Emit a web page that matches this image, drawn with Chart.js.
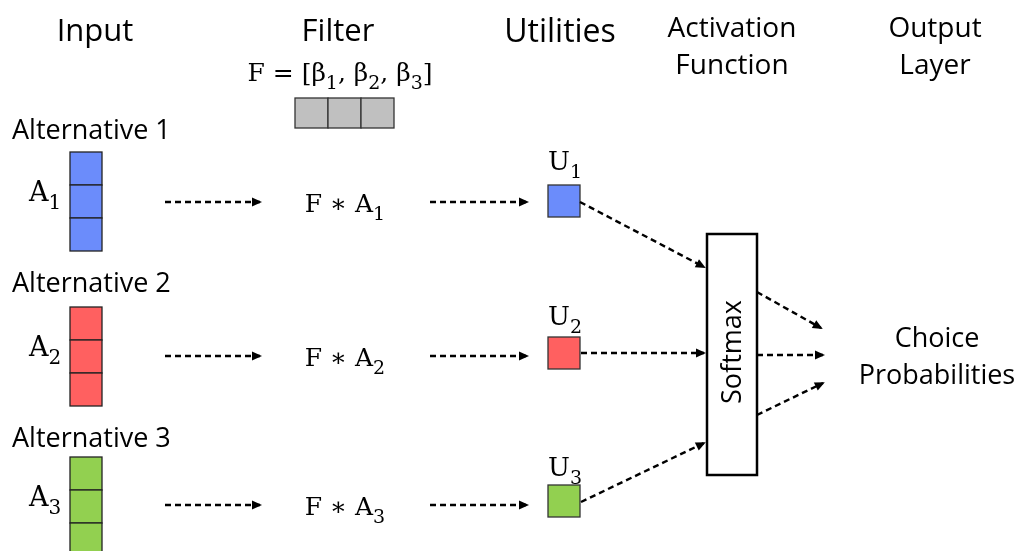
<!DOCTYPE html>
<html><head><meta charset="utf-8">
<script src="https://cdn.jsdelivr.net/npm/chart.js@4"></script>
<style>html,body{margin:0;padding:0;background:#fff}canvas{display:block}</style>
</head><body>
<canvas id="c" width="1019" height="551"></canvas>
<script>
// ---- diagram data (in diagram units: x 0..1019, y 0..551 top-down) ----
const headers = [['Input'], ['Filter'], ['Utilities'], ['Activation', 'Function'], ['Output', 'Layer']];
const headerX = [95, 338, 560, 732, 935];
const headerY = [41, 41, 42, 37, 37];
const headerSize = [31, 31, 32, 28, 28];
const alternatives = ['Alternative 1', 'Alternative 2', 'Alternative 3'];
const altLabelY = [139, 292, 447];
const inputTop = [152, 307, 457];
const rowY = [202, 356, 505];
const altColors = ['#6b8cfb', '#ff6060', '#92d050'];
const subscripts = ['1', '2', '3'];
const utilityTop = [185, 337, 485];
const utilityLabelY = [170, 325, 476];
const filterCellsX = [295, 328, 361];
const stage1 = [[165, 260], [165, 260], [165, 260]];
const stage2 = [[430, 527], [430, 527], [430, 527]];
const toSoftmax = [[[580, 202], [704, 267]], [[581, 353], [704, 353]], [[581, 502], [704, 443]]];
const fromSoftmax = [[[757, 292], [821, 328]], [[757, 355], [823, 355]], [[757, 415], [823, 383]]];
const outputLabel = ['Choice', 'Probabilities'];
const outputLabelY = [347, 384];

const datasets = [];
function addArrow(p0, p1) {
  datasets.push({ data: [{ x: p0[0], y: p0[1] }, { x: p1[0], y: p1[1] }], showLine: true,
    borderColor: '#000', borderWidth: 2.4, borderDash: [6, 4], pointRadius: 0, arrow: true });
}
for (let i = 0; i < 3; i++) {
  addArrow([stage1[i][0], rowY[i]], [stage1[i][1], rowY[i]]);
  addArrow([stage2[i][0], rowY[i]], [stage2[i][1], rowY[i]]);
  addArrow(toSoftmax[i][0], toSoftmax[i][1]);
  addArrow(fromSoftmax[i][0], fromSoftmax[i][1]);
}

const SANS = '"Open Sans", Lato, sans-serif';
const SERIF = '"DejaVu Serif", "Liberation Serif", serif';

const diagram = {
  id: 'diagram',
  beforeDatasetsDraw(chart) {
    const { ctx, scales: { x: xs, y: ys } } = chart;
    const X = v => xs.getPixelForValue(v), Y = v => ys.getPixelForValue(v);
    function rect(x, y, w, h, fill, stroke, lw) {
      const x0 = X(x), y0 = Y(y), x1 = X(x + w), y1 = Y(y + h);
      ctx.fillStyle = fill; ctx.fillRect(x0, y0, x1 - x0, y1 - y0);
      ctx.strokeStyle = stroke; ctx.lineWidth = lw; ctx.strokeRect(x0, y0, x1 - x0, y1 - y0);
    }
    function text(t, x, y, font, align) {
      ctx.font = font; ctx.fillStyle = '#000'; ctx.textAlign = align || 'center'; ctx.textBaseline = 'alphabetic';
      ctx.fillText(t, X(x), Y(y));
    }
    function math(parts, x, y, size) {
      const big = size + 'px ' + SERIF, small = Math.round(size * 0.74) + 'px ' + SERIF;
      let w = 0;
      parts.forEach(p => { ctx.font = p[1] ? small : big; w += ctx.measureText(p[0]).width; });
      let cx = X(x) - w / 2;
      ctx.fillStyle = '#000'; ctx.textAlign = 'left'; ctx.textBaseline = 'alphabetic';
      parts.forEach(p => {
        ctx.font = p[1] ? small : big;
        ctx.fillText(p[0], cx, Y(y + (p[1] ? size * 0.3 : 0)));
        cx += ctx.measureText(p[0]).width;
      });
    }
    ctx.save();
    headers.forEach((lines, i) => lines.forEach((l, j) => text(l, headerX[i], headerY[i] + j * 37, headerSize[i] + 'px ' + SANS)));
    math([['F = [β', 0], ['1', 1], [', β', 0], ['2', 1], [', β', 0], ['3', 1], [']', 0]], 340, 81, 25);
    filterCellsX.forEach(fx => rect(fx, 98, 33, 30, '#c0c0c0', '#333', 1.3));
    for (let i = 0; i < 3; i++) {
      text(alternatives[i], 12, altLabelY[i], '27px ' + SANS, 'left');
      for (let k = 0; k < 3; k++) rect(70, inputTop[i] + k * 33, 32, 33, altColors[i], '#222', 1.3);
      math([['A', 0], [subscripts[i], 1]], 45, inputTop[i] + 49, 27);
      math([['F ∗ A', 0], [subscripts[i], 1]], 345, rowY[i] + 10, 25);
      math([['U', 0], [subscripts[i], 1]], 565, utilityLabelY[i], 26);
      rect(548, utilityTop[i], 32, 32, altColors[i], '#333', 1.3);
    }
    rect(707, 234, 50, 241, '#fff', '#000', 2.5);
    ctx.save();
    ctx.translate(X(733), Y(352)); ctx.rotate(-Math.PI / 2);
    ctx.font = '27px ' + SANS; ctx.textAlign = 'center'; ctx.textBaseline = 'middle'; ctx.fillStyle = '#000';
    ctx.fillText('Softmax', 0, 0);
    ctx.restore();
    outputLabel.forEach((l, j) => text(l, 937, outputLabelY[j], '27px ' + SANS));
    ctx.restore();
  },
  afterDatasetsDraw(chart) {
    const { ctx } = chart;
    chart.data.datasets.forEach((ds, i) => {
      if (!ds.arrow) return;
      const pts = chart.getDatasetMeta(i).data;
      const a = pts[pts.length - 2], b = pts[pts.length - 1];
      const ang = Math.atan2(b.y - a.y, b.x - a.x);
      ctx.save();
      ctx.translate(b.x, b.y); ctx.rotate(ang);
      ctx.fillStyle = '#000';
      ctx.beginPath(); ctx.moveTo(2, 0); ctx.lineTo(-8, -4.5); ctx.lineTo(-8, 4.5); ctx.closePath(); ctx.fill();
      ctx.restore();
    });
  }
};

new Chart(document.getElementById('c'), {
  type: 'scatter',
  data: { datasets },
  options: {
    responsive: false, animation: false, devicePixelRatio: 1,
    layout: { padding: 0 },
    plugins: { legend: { display: false }, tooltip: { enabled: false } },
    scales: {
      x: { type: 'linear', min: 0, max: 1019, display: false },
      y: { type: 'linear', min: 0, max: 551, reverse: true, display: false }
    }
  },
  plugins: [diagram]
});
</script>
</body></html>
